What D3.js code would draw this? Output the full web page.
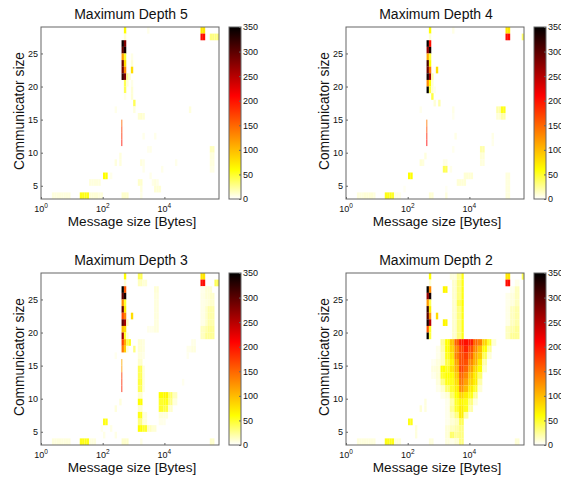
<!DOCTYPE html>
<html>
<head>
<meta charset="utf-8">
<style>
  html, body { margin: 0; padding: 0; background: #fff; overflow: hidden; }
  text { font-family: "Liberation Sans", Arial, sans-serif; fill: #111; }
</style>
<script src="https://cdn.jsdelivr.net/npm/d3@7"></script>
</head>
<body>
<svg id="chart" width="561" height="479"></svg>
<script>
// Message bins: 4 per power of two, a run is [communicator size, first bin, counts...]
const depth5Runs = [
    [28, 35, 60], [28, 45, 5], [28, 68, 75, 75],
    [27, 35, 10], [27, 68, 205, 205], [27, 72, 30, 30, 30, 30],
    [26, 34, 345, 280], [25, 34, 300, 340], [24, 34, 120, 50], [24, 38, 6],
    [23, 34, 290, 80], [23, 38, 10], [22, 34, 290, 130], [22, 38, 80],
    [21, 34, 320, 280, 25, 10], [20, 35, 40, 8], [20, 38, 6], [19, 35, 40], [19, 38, 10],
    [18, 35, 5], [18, 38, 10], [17, 39, 40], [16, 31, 5], [16, 39, 8], [16, 63, 8],
    [15, 41, 10, 12, 10], [12, 43, 5], [12, 48, 5], [10, 45, 4], [10, 46, 5],
    [10, 72, 15, 15], [9, 33, 8], [9, 72, 8, 8], [8, 31, 8], [8, 33, 8], [8, 42, 8, 6], [8, 57, 5],
    [8, 72, 8, 8], [7, 43, 5], [7, 72, 6, 6], [7, 51, 5],
    [6, 26, 60, 60], [6, 29, 5], [6, 46, 5], [5, 20, 8, 8, 8, 8, 8], [5, 41, 12, 12], [5, 47, 6, 8, 6],
    [4, 42, 8], [4, 48, 10, 10, 10], [3, 4, 8, 8, 8, 8, 8, 8, 8, 8], [3, 16, 55, 55, 55, 55],
    [3, 20, 10, 10, 10, 10, 8, 8], [3, 34, 12, 12, 12], [3, 42, 6]
];
const depth4Runs = [
    [28, 35, 60], [28, 45, 6], [28, 68, 75, 75],
    [27, 35, 10], [27, 68, 205, 205], [27, 75, 35],
    [26, 34, 350, 200], [25, 34, 270, 340], [24, 34, 110, 45], [23, 34, 310, 60],
    [22, 34, 290, 140], [22, 38, 80], [21, 34, 340, 260, 20], [20, 34, 130, 60, 10],
    [19, 34, 350, 45, 10, 5], [18, 36, 45], [17, 37, 10], [17, 39, 20],
    [16, 31, 4], [16, 45, 6], [16, 64, 20, 20, 55, 55], [15, 45, 4], [15, 64, 10, 10, 20, 20],
    [12, 46, 6], [12, 62, 6], [11, 62, 5], [10, 45, 4], [10, 57, 20, 20], [9, 33, 8], [9, 57, 10, 10],
    [8, 31, 10, 8], [8, 41, 6, 6], [8, 57, 8, 8], [7, 41, 40, 40], [7, 44, 5],
    [6, 26, 60, 60], [6, 50, 10, 10, 10, 10], [6, 68, 8, 8], [5, 47, 10, 10, 10, 10], [5, 68, 8, 8],
    [4, 24, 3], [4, 42, 3], [4, 68, 8, 8], [3, 4, 8, 8, 8, 10, 10, 10, 10, 8], [3, 16, 55, 55, 55, 50],
    [3, 20, 6, 6, 5], [3, 35, 10, 10], [3, 42, 8], [3, 68, 8, 8]
];
const depth3Runs = [
    [28, 35, 60], [28, 41, 40, 40], [28, 68, 75, 75],
    [27, 35, 10], [27, 41, 15, 15, 10, 10], [27, 68, 205, 205], [27, 74, 40, 40],
    [26, 34, 350, 160], [26, 48, 10, 10], [26, 68, 5, 5, 10, 10, 10],
    [25, 34, 300, 340], [25, 48, 8, 8], [25, 68, 6, 6, 10, 10, 12, 12],
    [24, 34, 130, 50], [24, 48, 8, 8], [24, 68, 6, 6, 8, 10, 12, 12],
    [23, 34, 290, 70], [23, 48, 8, 8], [23, 68, 6, 6, 12, 20, 20, 20],
    [22, 34, 170, 130], [22, 38, 80], [22, 48, 8, 8], [22, 68, 6, 6, 12, 20, 20, 20],
    [21, 34, 300, 260, 15], [21, 48, 8, 8], [21, 68, 6, 6, 12, 20, 20, 20],
    [20, 34, 100, 80], [20, 45, 5, 5, 5, 8, 8], [20, 68, 15, 15, 20, 25, 25, 25],
    [19, 34, 260, 50, 10], [19, 68, 15, 15, 25, 25, 25, 25],
    [18, 34, 170, 110, 45, 55], [18, 41, 10, 10, 8], [18, 64, 6, 6],
    [17, 34, 140, 90, 8], [17, 39, 30], [17, 41, 10, 10, 8], [17, 62, 5, 5, 8, 8],
    [16, 31, 4], [16, 41, 8, 8, 6], [16, 62, 4],
    [15, 41, 12, 12], [14, 41, 40, 40, 8], [13, 41, 40, 40, 8], [12, 41, 45, 45, 8], [12, 60, 4],
    [11, 41, 40, 40, 8], [10, 41, 12, 12], [10, 50, 60, 60, 65, 65, 35, 35, 15, 15],
    [9, 41, 60, 60], [9, 50, 50, 50, 55, 55, 30, 30, 8, 8], [9, 33, 8],
    [8, 31, 8], [8, 41, 12, 12], [8, 50, 50, 50, 45, 45, 12, 12],
    [7, 41, 55, 55, 8, 8], [7, 50, 8, 8, 8, 8], [6, 26, 55, 55], [6, 41, 30, 30, 8, 8], [6, 50, 5, 5, 5],
    [5, 25, 4], [5, 29, 6], [5, 41, 60, 60, 50, 50, 15, 15, 10, 10], [4, 26, 6], [4, 31, 6],
    [3, 4, 8, 8, 8, 8, 8, 8, 8, 8], [3, 16, 55, 55, 55, 55], [3, 20, 8, 8, 8],
    [3, 34, 12, 12, 12], [3, 42, 6], [3, 72, 12, 12]
];
const depth2Runs = [
    [28, 35, 60], [28, 44, 8, 8, 8, 25, 25, 55], [28, 68, 75, 75], [28, 75, 40],
    [27, 35, 10], [27, 45, 12, 12, 30, 30, 55], [27, 68, 205, 205], [27, 72, 5, 5],
    [26, 34, 350, 130], [26, 41, 65, 65], [26, 45, 12, 12, 30, 30, 55], [26, 70, 5, 5, 15, 15],
    [25, 34, 270, 340], [25, 45, 12, 12, 30, 30, 55], [25, 68, 5, 5, 8, 8, 15, 15],
    [24, 34, 120, 40], [24, 45, 12, 12, 40, 40, 60], [24, 68, 5, 5, 8, 8, 15, 15],
    [23, 34, 320, 70], [23, 45, 12, 12, 30, 30, 55], [23, 68, 6, 6, 15, 15, 20, 20],
    [22, 34, 300, 120], [22, 38, 80], [22, 45, 12, 12, 30, 30, 55], [22, 68, 6, 6, 15, 15, 20, 20],
    [21, 34, 340, 250], [21, 41, 65, 65], [21, 45, 12, 12, 30, 30, 55], [21, 68, 6, 6, 15, 15, 20, 20],
    [20, 34, 160, 50], [20, 45, 12, 12, 30, 30, 55], [20, 68, 15, 15, 20, 20, 25, 25],
    [19, 34, 350, 45], [19, 45, 12, 12, 30, 30, 55], [19, 68, 15, 15, 25, 25, 25, 25],
    [9, 33, 8], [8, 31, 10], [8, 33, 8], [6, 26, 55, 55], [5, 29, 8], [4, 29, 8],
    [3, 4, 8, 8, 8, 8, 8, 8, 8, 8], [3, 16, 55, 55, 55, 55], [3, 20, 8, 8, 8],
    [3, 35, 8, 8], [3, 72, 10, 10]
];
// Depth 2 wedge, each value fills a pair of bins starting at bin 36
const wedgeSizes = [18, 17, 16, 15, 14, 13, 12, 11, 10, 9, 8, 7, 6, 5, 4, 3];
const wedgeCounts = [
    [0, 0, 25, 60, 95, 155, 195, 205, 195, 150, 135, 85, 50, 10],
    [0, 5, 20, 60, 85, 130, 170, 190, 165, 130, 100, 60, 25, 0],
    [0, 5, 15, 55, 75, 135, 165, 175, 150, 110, 90, 40, 10, 0],
    [4, 8, 15, 45, 65, 115, 165, 165, 130, 105, 70, 20, 0, 0],
    [8, 10, 60, 55, 75, 105, 170, 150, 115, 85, 60, 12, 0, 0],
    [5, 10, 50, 60, 60, 90, 150, 130, 95, 70, 35, 0, 0, 0],
    [0, 8, 30, 55, 55, 80, 140, 115, 85, 70, 20, 0, 0, 0],
    [0, 5, 12, 35, 50, 70, 125, 100, 70, 50, 10, 0, 0, 0],
    [0, 0, 5, 10, 35, 60, 85, 70, 55, 25, 0, 0, 0, 0],
    [0, 0, 0, 5, 20, 50, 65, 55, 30, 8, 0, 0, 0, 0],
    [0, 0, 0, 5, 25, 50, 70, 55, 20, 0, 0, 0, 0, 0],
    [0, 0, 0, 5, 15, 30, 70, 20, 0, 0, 0, 0, 0, 0],
    [0, 0, 0, 5, 10, 15, 40, 0, 0, 0, 0, 0, 0, 0],
    [0, 0, 0, 10, 15, 20, 30, 0, 0, 0, 0, 0, 0, 0],
    [0, 0, 0, 10, 35, 25, 30, 0, 0, 0, 0, 0, 0, 0],
    [0, 0, 0, 8, 5, 10, 30, 0, 0, 0, 0, 0, 0, 0]
];
// Thin column around bin 34, [communicator size, count]
const thinDepth5 = [[14, 150], [13, 175], [12, 185], [11, 200]];
const thinDepth4 = [[14, 140], [13, 165], [12, 190], [11, 210]];
const thinDepth3 = [[15, 110], [14, 120], [13, 175], [12, 185], [11, 190]];

const xTicks = [1, 100, 10000];
const yTicks = [5, 10, 15, 20, 25];
const colorTicks = [0, 50, 100, 150, 200, 250, 300, 350];
const colorStops = [0, 60, 210, 350];
const colorValues = ["#ffffff", "#ffff00", "#ff0000", "#000000"];

const panels = [
    { title: "Maximum Depth 5", left: 41, top: 27, runs: depth5Runs, thin: thinDepth5 },
    { title: "Maximum Depth 4", left: 346, top: 27, runs: depth4Runs, thin: thinDepth4 },
    { title: "Maximum Depth 3", left: 41, top: 273, runs: depth3Runs, thin: thinDepth3 },
    { title: "Maximum Depth 2", left: 346, top: 273, runs: depth2Runs, thin: [], wedge: true }
];

const width = 178, height = 172, barGap = 10, barWidth = 12;

const svg = d3.select("#chart");
const defs = svg.append("defs");

// Slight softening, the source is a small raster
defs.append("filter")
    .attr("id", "soft")
    .attr("x", "-5%").attr("y", "-5%").attr("width", "110%").attr("height", "110%")
    .append("feGaussianBlur")
    .attr("stdDeviation", 0.45);

const x = d3.scaleLog().domain([1, Math.pow(10, 5.77)]).range([0, width]);
const y = d3.scaleLinear().domain([3, 29]).range([height, 0]);
const c = d3.scaleLinear().domain([0, 350]).range([height, 0]);
const color = d3.scaleLinear().domain(colorStops).range(colorValues).clamp(true);

// Colour bar gradient, bottom to top
defs.append("linearGradient")
    .attr("id", "barGradient")
    .attr("x1", 0).attr("y1", 1).attr("x2", 0).attr("y2", 0)
    .selectAll("stop")
    .data(colorStops)
    .join("stop")
    .attr("offset", d => d / 350)
    .attr("stop-color", d => color(d));

// Left edge of a bin on the message size axis
const binEdge = b => Math.pow(2, (b + 0.7) / 4);

function runsToCells(runs) {
    let cells = [];
    runs.forEach(run => {
        run.slice(2).forEach((count, i) => {
            cells.push({ size: run[0], bin: run[1] + i, count: count });
        });
    });
    return cells;
}

function wedgeToCells() {
    let cells = [];
    wedgeCounts.forEach((row, r) => {
        row.forEach((count, i) => {
            if (count > 0) {
                cells.push({ size: wedgeSizes[r], bin: 36 + i * 2, count: count });
                cells.push({ size: wedgeSizes[r], bin: 37 + i * 2, count: count });
            }
        });
    });
    return cells;
}

function drawPanel(p) {
    const g = svg.append("g").attr("transform", "translate(" + p.left + "," + p.top + ")");

    const cells = runsToCells(p.runs).concat(p.wedge ? wedgeToCells() : []);

    const heat = g.append("g").attr("filter", "url(#soft)");
    heat.append("rect").attr("width", width).attr("height", height).attr("fill", "#fff");
    heat.selectAll(".cell")
        .data(cells)
        .join("rect")
        .attr("class", "cell")
        .attr("x", d => x(binEdge(d.bin)))
        .attr("y", d => y(d.size + 1))
        .attr("width", d => x(binEdge(d.bin + 1)) - x(binEdge(d.bin)) + 0.05)
        .attr("height", d => y(d.size) - y(d.size + 1) + 0.05)
        .attr("fill", d => color(d.count));

    // thin column, narrower than a pixel or two so it comes out pale
    heat.selectAll(".thin")
        .data(p.thin)
        .join("rect")
        .attr("class", "thin")
        .attr("x", x(binEdge(33.95)))
        .attr("y", d => y(d[0] + 1))
        .attr("width", x(binEdge(34.3)) - x(binEdge(33.95)))
        .attr("height", d => y(d[0]) - y(d[0] + 1))
        .attr("fill", d => color(d[1]));

    // Frame
    g.append("rect")
        .attr("width", width).attr("height", height)
        .attr("fill", "none")
        .attr("stroke", "#666");

    // Axes
    const xAxis = d3.axisBottom(x).tickValues(xTicks).tickSize(-2).tickFormat("");
    const xG = g.append("g").attr("transform", "translate(0," + height + ")").call(xAxis);
    const yG = g.append("g").call(d3.axisLeft(y).tickValues(yTicks).tickSize(-2).tickPadding(3));
    xG.select(".domain").remove();
    yG.select(".domain").remove();
    g.selectAll(".tick line").attr("stroke", "#666");
    yG.selectAll("text").attr("font-size", 9).attr("font-family", "Liberation Sans").attr("fill", "#222");

    // Power of ten labels
    const powers = g.selectAll(".power")
        .data(xTicks)
        .join("text")
        .attr("class", "power")
        .attr("x", d => x(d))
        .attr("y", height + 13)
        .attr("text-anchor", "middle")
        .attr("font-size", 9);
    powers.append("tspan").text("10");
    powers.append("tspan")
        .attr("dy", -4)
        .attr("font-size", 6.5)
        .text(d => Math.round(Math.log10(d)));

    // Titles
    g.append("text")
        .attr("x", width / 2 + 1)
        .attr("y", -8)
        .attr("text-anchor", "middle")
        .attr("font-size", 14)
        .text(p.title);
    g.append("text")
        .attr("x", width / 2 + 2)
        .attr("y", height + 27)
        .attr("text-anchor", "middle")
        .attr("font-size", 13.6)
        .text("Message size [Bytes]");
    g.append("text")
        .attr("transform", "translate(-17," + (height / 2 - 2) + ") rotate(-90)")
        .attr("text-anchor", "middle")
        .attr("font-size", 13.8)
        .text("Communicator size");

    // Colour bar
    const bar = g.append("g").attr("transform", "translate(" + (width + barGap) + ",0)");
    bar.append("rect")
        .attr("width", barWidth).attr("height", height)
        .attr("fill", "url(#barGradient)")
        .attr("stroke", "#666");
    const barAxis = bar.append("g")
        .attr("transform", "translate(" + barWidth + ",0)")
        .call(d3.axisRight(c).tickValues(colorTicks).tickSize(-2).tickPadding(2));
    barAxis.select(".domain").remove();
    barAxis.selectAll("line").attr("stroke", "#666");
    barAxis.selectAll("text").attr("font-size", 9).attr("font-family", "Liberation Sans").attr("fill", "#222");
}

panels.forEach(drawPanel);
</script>
</body>
</html>
